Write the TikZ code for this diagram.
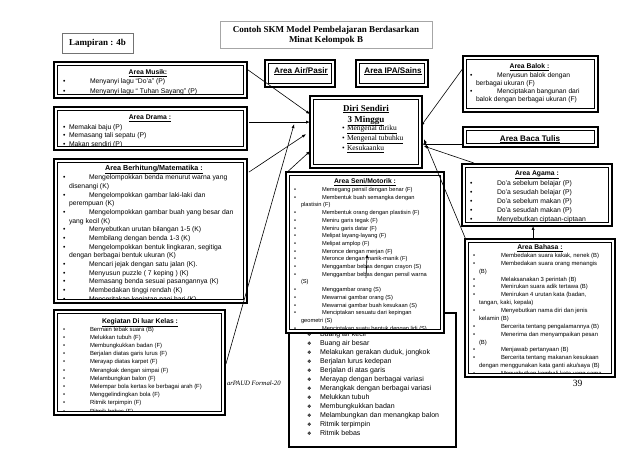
\documentclass[tikz,border=0pt]{standalone}
\usepackage{fontspec}
\setmainfont{Liberation Serif}
\setsansfont{Liberation Sans}
\newfontfamily\djv{DejaVu Sans}
\usetikzlibrary{arrows.meta,calc}
\tikzset{
  dbox/.style={draw=black, line width=2.2pt, fill=white, inner sep=0pt, outer sep=0pt, rectangle},
  ln/.style={anchor=base west, inner sep=0pt, outer sep=0pt},
  ttl/.style={anchor=base, inner sep=0pt, outer sep=0pt, font=\sffamily\bfseries\fontsize{6.8}{8}\selectfont},
  bigttl/.style={anchor=base, inner sep=0pt, outer sep=0pt, font=\sffamily\bfseries\fontsize{8.1}{9}\selectfont},
  arr/.style={line width=0.6pt, -{Latex[length=4pt,width=3pt]}},
}
\newcommand\mkbox[5]{%
  \node[dbox, minimum width={(#4-#2-2.2)*1pt}, minimum height={(#5-#3-2.2)*1pt}] (#1) at ({(#2+#4)/2},{(#3+#5)/2}) {};
  \draw[line width=0.9pt] ($(#1.north west)+(3.1,3.1)$) rectangle ($(#1.south east)+(-3.1,-3.1)$);}
\newcommand\blines[8]{%
  \begin{scope}
  \clip ($(#1.north west)+(3.7,3.7)$) rectangle ($(#1.south east)+(-3.7,-3.7)$);
  \foreach \k/\t [count=\i from 0] in {#8}{%
    \pgfmathsetmacro\yy{#6+\i*#7}%
    \if\k b%
      \node[ln, font=\sffamily\fontsize{#2}{#2}\selectfont] (#1b\i) at (#3,\yy) {•};%
      \node[ln, font=\sffamily\fontsize{#2}{#2}\selectfont] (#1l\i) at (#4,\yy) {\t};%
    \else
      \node[ln, font=\sffamily\fontsize{#2}{#2}\selectfont] (#1l\i) at (#5,\yy) {\t};%
    \fi
  }
  \end{scope}}
\begin{document}
\begin{tikzpicture}[x=1pt,y=-1pt]
\useasboundingbox (0,0) rectangle (638,451);
\fill[white] (0,0) rectangle (638,451);

% footer and page number
\node[ln, font=\itshape\fontsize{6.7}{8}\selectfont] (footer) at (227,385.5) {arPAUD Formal-20};
\node[anchor=base, inner sep=0pt, font=\fontsize{9.5}{10}\selectfont] (page) at (577.5,386.5) {39};

% Lampiran and title
\node[draw=black!55, line width=0.8pt, minimum width=71pt, minimum height=20pt, inner sep=0pt, font=\bfseries\fontsize{9}{10}\selectfont] (lamp) at (97.5,43) {Lampiran : 4b};
\node[draw=black!35, line width=0.6pt, minimum width=212pt, minimum height=27pt, inner sep=0pt] (title) at (326,34.5) {};
\node[anchor=base, inner sep=0pt, font=\bfseries\fontsize{9}{10}\selectfont] (title1) at (326,32.5) {Contoh SKM Model Pembelajaran Berdasarkan};
\node[anchor=base, inner sep=0pt, font=\bfseries\fontsize{9}{10}\selectfont] (title2) at (326,42.5) {Minat Kelompok B};

% Area Musik
\mkbox{musik}{53}{61}{248}{99}
\node[ttl] (musikT) at (148,74.5) {\underline{Area Musik:}};
\blines{musik}{6.8}{63}{90}{69}{83.5}{9.6}{b/{Menyanyi lagu “Do’a” (P)}, b/{Menyanyi lagu “ Tuhan Sayang” (P)}}

% Area Drama
\mkbox{drama}{53}{106}{248}{151}
\node[ttl] (dramaT) at (150,119.5) {\underline{Area Drama :}};
\blines{drama}{6.8}{63}{69}{69}{129}{8.8}{b/{Memakai baju (P)}, b/{Memasang tali sepatu (P)}, b/{Makan sendiri (P)}}

% Area Berhitung
\mkbox{berhitung}{53}{158}{248}{304}
\node[ttl, font=\sffamily\bfseries\fontsize{7.2}{8}\selectfont] (berhitungT) at (154,170.5) {\underline{Area Berhitung/Matematika :}};
\blines{berhitung}{6.8}{63}{89}{69}{179.8}{8.66}{b/{Mengelompokkan benda menurut warna yang}, c/{disenangi (K)}, b/{Mengelompokkan gambar laki-laki dan}, c/{perempuan (K)}, b/{Mengelompokkan gambar buah yang besar dan}, c/{yang kecil (K)}, b/{Menyebutkan urutan bilangan 1-5 (K)}, b/{Membilang dengan benda  1-3 (K)}, b/{Mengelompokkan bentuk lingkaran, segitiga}, c/{dengan berbagai bentuk ukuran (K)}, b/{Mencari jejak dengan satu jalan (K).}, b/{Menyusun puzzle ( 7 keping ) (K)}, b/{Memasang benda sesuai pasangannya (K)}, b/{Membedakan tinggi rendah (K)}, b/{Menceritakan kegiatan pagi hari (K)}}

% Kegiatan Di luar Kelas
\mkbox{kegiatan}{53}{309}{226}{416}
\node[ttl] (kegiatanT) at (140,323) {\underline{Kegiatan Di luar Kelas :}};
\blines{kegiatan}{5.9}{63}{90}{90}{331}{8.2}{b/{Bermain tebak suara (B)}, b/{Melukkan tubuh (F)}, b/{Membungkukkan badan (F)}, b/{Berjalan diatas garis lurus (F)}, b/{Merayap diatas karpet (F)}, b/{Merangkak dengan simpai (F)}, b/{Melambungkan balon (F)}, b/{Melempar bola kertas ke berbagai arah (F)}, b/{Menggelindingkan bola (F)}, b/{Ritmik terpimpin (F)}, b/{Ritmik bebas (F)}}

% Motorik kasar (back box)
\node[draw=black, line width=1.3pt, fill=white, minimum width=167pt, minimum height=134pt, inner sep=0pt, outer sep=0pt] (kasar) at (372.5,380) {};
\begin{scope}
\clip ($(kasar.north west)+(1,1)$) rectangle ($(kasar.south east)+(-1,-1)$);
\foreach \t [count=\i from 0] in {{Buang air kecil}, {Buang air besar}, {Melakukan gerakan duduk, jongkok}, {Berjalan lurus kedepan}, {Berjalan di atas garis}, {Merayap dengan berbagai variasi}, {Merangkak dengan berbagai variasi}, {Melukkan tubuh}, {Membungkukkan badan}, {Melambungkan dan menangkap balon}, {Ritmik terpimpin}, {Ritmik bebas}}{%
  \pgfmathsetmacro\yy{336+\i*9}%
  \node[ln, font=\djv\fontsize{5}{5}\selectfont] (kasarb\i) at (307,\yy) {❖};
  \node[ln, font=\sffamily\fontsize{7}{8}\selectfont] (kasarl\i) at (320,\yy) {\t};
}
\end{scope}

% Area Seni/Motorik
\mkbox{seni}{285}{171}{445}{334}
\node[ttl] (seniT) at (365,183.5) {\underline{Area Seni/Motorik :}};
\blines{seni}{5.7}{294}{322}{301}{191.5}{7.7}{b/{Memegang pensil dengan benar (F)}, b/{Membentuk buah semangka dengan}, c/{plastisin (F)}, b/{Membentuk orang dengan plastisin (F)}, b/{Meniru garis tegak (F)}, b/{Meniru garis datar (F)}, b/{Melipat layang-layang (F)}, b/{Melipat amplop (F)}, b/{Meronce dengan merjan (F)}, b/{Meronce dengan manik-manik (F)}, b/{Menggambar bebas dengan crayon (S)}, b/{Menggambar bebas dengan pensil warna}, c/{(S)}, b/{Menggambar orang (S)}, b/{Mewarnai gambar orang (S)}, b/{Mewarnai gambar buah kesukaan (S)}, b/{Menciptakan sesuatu dari kepingan}, c/{geometri (S)}, b/{Menciptakan suatu bentuk dengan lidi (S)}}

% Diri Sendiri
\mkbox{diri}{309}{95}{423}{169}
\node[anchor=base, inner sep=0pt, font=\bfseries\fontsize{9}{10}\selectfont] (diriT1) at (366,111) {\underline{Diri Sendiri}};
\node[anchor=base, inner sep=0pt, font=\bfseries\fontsize{9}{10}\selectfont] (diriT2) at (366,122) {\underline{3 Minggu}};
\foreach \t [count=\i from 0] in {Mengenal diriku, Mengenal tubuhku, Kesukaanku}{%
  \pgfmathsetmacro\yy{130.5+\i*10}%
  \node[ln, font=\fontsize{7.5}{8}\selectfont] (dirib\i) at (342,\yy) {•};
  \node[ln, font=\fontsize{7.5}{8}\selectfont] (diril\i) at (347,\yy) {\underline{\t}};
}

% Air/Pasir, IPA/Sains
\mkbox{air}{264}{59}{336}{88}
\node[bigttl] (airT) at (301,73) {\underline{Area Air/Pasir}};
\mkbox{ipa}{355}{59}{429}{88}
\node[bigttl] (ipaT) at (393,73) {\underline{Area IPA/Sains}};

% Area Balok
\mkbox{balok}{462}{55}{599}{113}
\node[ttl] (balokT) at (529.5,68.5) {\underline{Area Balok :}};
\blines{balok}{6.7}{470}{497}{476}{77.5}{8}{b/{Menyusun balok dengan}, c/{berbagai ukuran (F)}, b/{Menciptakan bangunan dari}, c/{balok dengan berbagai ukuran (F)}}

% Area Baca Tulis
\mkbox{baca}{462}{126}{599}{148}
\node[bigttl] (bacaT) at (530,141) {\underline{Area Baca Tulis}};

% Area Agama
\mkbox{agama}{461}{163}{613}{227}
\node[ttl] (agamaT) at (537,175.5) {\underline{Area Agama :}};
\blines{agama}{6.8}{470}{497}{497}{185}{9}{b/{Do’a sebelum belajar (P)}, b/{Do’a sesudah belajar (P)}, b/{Do’a sebelum makan (P)}, b/{Do’a sesudah makan (P)}, b/{Menyebutkan ciptaan-ciptaan}}

% Area Bahasa
\mkbox{bahasa}{464}{238}{616}{378}
\node[ttl] (bahasaT) at (540,249.5) {\underline{Area Bahasa :}};
\blines{bahasa}{5.9}{473}{501}{479}{257.5}{7.87}{b/{Membedakan suara kakak, nenek (B)}, b/{Membedakan suara orang menangis}, c/{(B)}, b/{Melaksanakan 3 perintah (B)}, b/{Menirukan suara adik tertawa (B)}, b/{Menirukan 4 urutan kata (badan,}, c/{tangan, kaki, kepala)}, b/{Menyebutkan nama diri dan jenis}, c/{kelamin (B)}, b/{Bercerita tentang pengalamannya (B)}, b/{Menerima dan menyampaikan pesan}, c/{(B)}, b/{Menjawab pertanyaan (B)}, b/{Bercerita tentang makanan kesukaan}, c/{dengan menggunakan kata ganti aku/saya (B)}, b/{Menyebutkan kembali kata yang sama}}

% connectors
\draw[arr] ($(musik.north east)+(0,7)$) -- ($(diri.north west)+(0,18)$);
\draw[arr] ($(drama.north east)+(2,15)$) -- ($(diri.north west)+(0,26)$);
\draw[arr] ($(berhitung.north east)+(2,13)$) -- ($(diri.north west)+(-4,38)$);
\draw[arr] ($(kegiatan.north east)+(1,54)$) -- ($(diri.north west)+(-16,28)$);
\draw[arr] ($(seni.north west)+(0,1)$) -- ($(diri.north west)+(0,55)$);
\draw[arr] ($(balok.north west)+(0,12)$) -- ($(diri.north east)+(-1,30)$);
\draw[arr] ($(baca.north west)+(0,17)$) -- ($(diri.north east)+(0,48)$);
\draw[arr] ($(agama.north west)+(12,-1)$) -- ($(diri.north east)+(2,50)$);
\draw[arr] ($(bahasa.north west)+(1,1)$) -- ($(diri.north east)+(2,43)$);
\draw[arr] ($(bahasa.north west)+(68,0)$) -- ($(agama.south west)+(71,0)$);
\coordinate (k1) at (366,278);
\draw[arr] (k1) -- ($(seni.north west)+(81,82)$);
\end{tikzpicture}
\end{document}
